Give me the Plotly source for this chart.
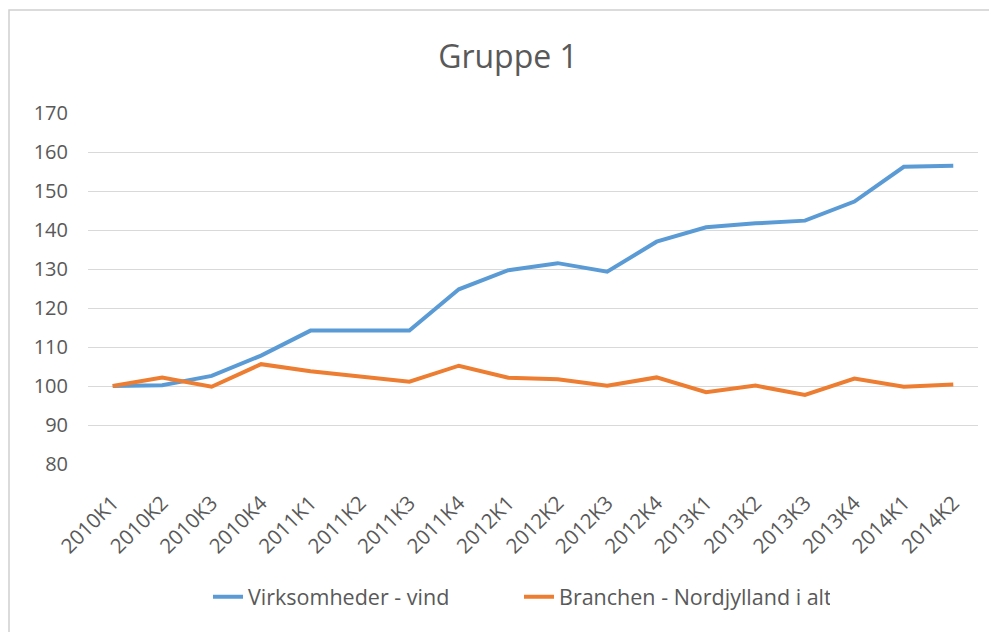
import plotly.graph_objects as go

categories = ["2010K1", "2010K2", "2010K3", "2010K4", "2011K1", "2011K2", "2011K3", "2011K4",
              "2012K1", "2012K2", "2012K3", "2012K4", "2013K1", "2013K2", "2013K3", "2013K4",
              "2014K1", "2014K2"]
vind = [100.0, 100.2, 102.6, 107.8, 114.2, 114.2, 114.2, 124.8,
        129.7, 131.5, 129.3, 137.0, 140.7, 141.7, 142.4, 147.3,
        156.2, 156.5]
branchen = [100.0, 102.2, 99.8, 105.6, 103.8, 102.5, 101.1, 105.2,
            102.1, 101.7, 100.1, 102.2, 98.4, 100.1, 97.7, 101.9,
            99.8, 100.4]
y_ticks = [80, 90, 100, 110, 120, 130, 140, 150, 160, 170]

FONT = "Open Sans"
GREY = "#595959"

fig = go.Figure()
fig.add_trace(go.Scatter(x=categories, y=vind, mode="lines", name="Virksomheder - vind",
                         line=dict(color="#5B9BD5", width=4)))
fig.add_trace(go.Scatter(x=categories, y=branchen, mode="lines", name="Branchen - Nordjylland i alt",
                         line=dict(color="#ED7D31", width=4)))

W, H = 989, 624
L, R, T, B = 80, 19, 105, 168
PW = W - L - R

fig.update_layout(
    width=W, height=H,
    paper_bgcolor="white", plot_bgcolor="white",
    margin=dict(l=L, r=R, t=T, b=B, autoexpand=False),
    font=dict(family=FONT, color=GREY, size=19),
    title=dict(text="Gruppe 1", x=500 / W, xanchor="center", y=1 - 49 / H, yanchor="middle",
               font=dict(size=32, color=GREY, family=FONT)),
    showlegend=True,
    legend=dict(orientation="h", x=(200 - L) / PW, xanchor="left", y=-0.378, yanchor="middle",
                font=dict(size=21.5, color=GREY), entrywidth=266, entrywidthmode="pixels"),
    xaxis=dict(type="category", tickangle=-45, showgrid=False, showline=False, ticks="",
               automargin=False, ticklabelstandoff=22,
               tickfont=dict(size=20.5, color=GREY), range=[-0.5, len(categories) - 0.5]),
    yaxis=dict(range=[80, 170], tickvals=y_ticks, showgrid=True, gridcolor="#D9D9D9", gridwidth=1,
               zeroline=False, showline=False, ticks="", ticklabelstandoff=19, automargin=False,
               tickfont=dict(size=20, color=GREY)),
    shapes=[
        dict(type="rect", xref="paper", yref="paper", x0=(1 - L) / PW, x1=1.2,
             y0=-0.7, y1=(H - B - 2) / (H - T - B),
             line=dict(color="#D0D0D0", width=1.5), fillcolor="rgba(0,0,0,0)", layer="below"),
    ],
)

fig.write_html("out.html")
